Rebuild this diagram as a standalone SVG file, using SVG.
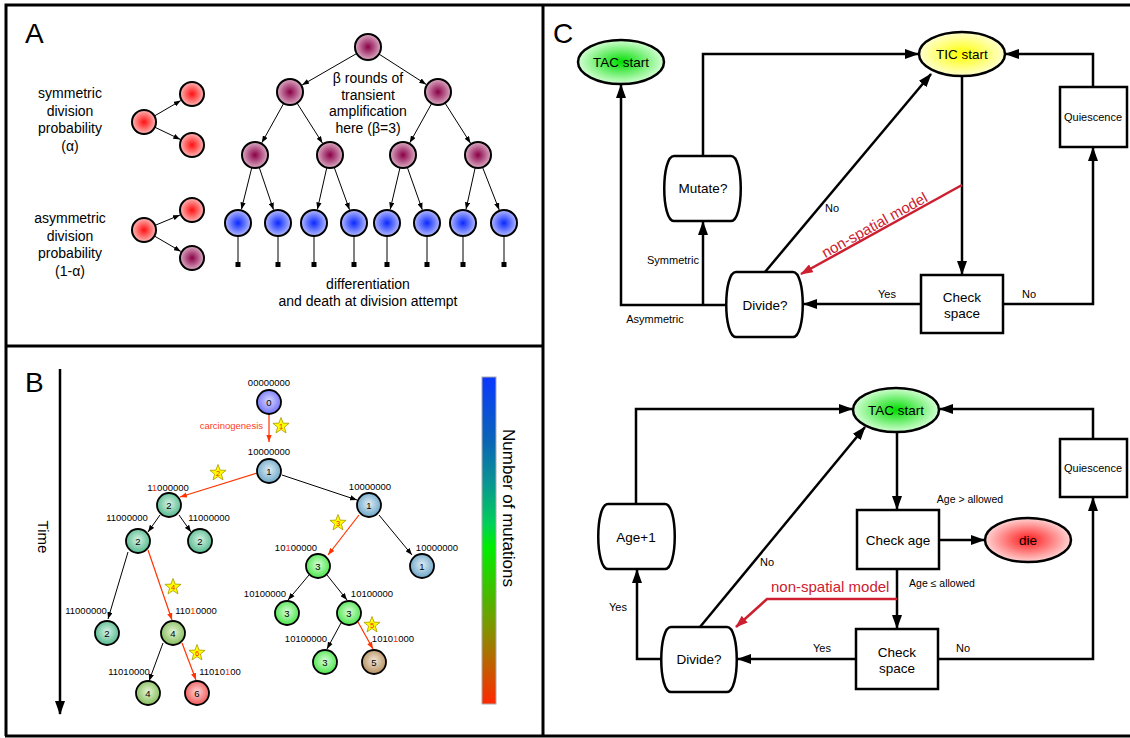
<svg xmlns="http://www.w3.org/2000/svg" width="1130" height="738" viewBox="0 0 1130 738">
<style>
text{font-family:"Liberation Sans",Arial,Helvetica,sans-serif;fill:#000}
.panel{fill:none;stroke:#000;stroke-width:3}
.ca{stroke:#000;stroke-width:2}
.ta{font-size:14px;text-anchor:middle}
.ea{stroke:#000;stroke-width:1;fill:none;marker-end:url(#arrS)}
.bn{stroke:#000;stroke-width:1.8}
.bl{font-size:9.5px;text-anchor:middle}
.bd{font-size:9.5px;text-anchor:middle}
.eb{stroke:#000;stroke-width:1;fill:none;marker-end:url(#arrS)}
.er{stroke:#ff3300;stroke-width:1.2;fill:none;marker-end:url(#arrR)}
.fc{fill:none;stroke:#000;stroke-width:2.5;marker-end:url(#arrB)}
.fcr{fill:none;stroke:#cc2030;stroke-width:2.5;marker-end:url(#arrCR)}
.box{fill:#fff;stroke:#000;stroke-width:2.5}
.nt{font-size:13.5px;text-anchor:middle}
.lb{font-size:11px;text-anchor:middle}
.r{fill:#ff3300}
.sd{font-size:7.5px;text-anchor:middle;fill:#ff2000}
.big{font-size:28px}
</style>
<defs>
<marker id="arrS" viewBox="0 0 8 6" refX="8" refY="3" markerWidth="7" markerHeight="5.5" markerUnits="userSpaceOnUse" orient="auto"><path d="M0,0L8,3L0,6z" fill="#000"/></marker>
<marker id="arrR" viewBox="0 0 8 6" refX="8" refY="3" markerWidth="7" markerHeight="5.5" markerUnits="userSpaceOnUse" orient="auto"><path d="M0,0L8,3L0,6z" fill="#ff3300"/></marker>
<marker id="arrB" viewBox="0 0 14 10" refX="13" refY="5" markerWidth="14" markerHeight="10" markerUnits="userSpaceOnUse" orient="auto"><path d="M0,0L14,5L0,10z" fill="#000"/></marker>
<marker id="arrCR" viewBox="0 0 14 10" refX="13" refY="5" markerWidth="13" markerHeight="9" markerUnits="userSpaceOnUse" orient="auto"><path d="M0,0L14,5L0,10z" fill="#cc2030"/></marker>
<radialGradient id="gRed"><stop offset="0" stop-color="#ff1010"/><stop offset="1" stop-color="#ffb8b8"/></radialGradient>
<radialGradient id="gPur"><stop offset="0" stop-color="#8a0048"/><stop offset="1" stop-color="#dcacc4"/></radialGradient>
<radialGradient id="gBlu"><stop offset="0" stop-color="#0a28ff"/><stop offset="1" stop-color="#b4baff"/></radialGradient>
<radialGradient id="g0" cx="0.5" cy="0.45" r="0.55"><stop offset="0" stop-color="#d8d8ff"/><stop offset="1" stop-color="#7070f8"/></radialGradient>
<radialGradient id="g1" cx="0.5" cy="0.45" r="0.55"><stop offset="0" stop-color="#e0eef6"/><stop offset="1" stop-color="#6aa4c6"/></radialGradient>
<radialGradient id="g2" cx="0.5" cy="0.45" r="0.55"><stop offset="0" stop-color="#d8f4e6"/><stop offset="1" stop-color="#52b88c"/></radialGradient>
<radialGradient id="g3" cx="0.5" cy="0.45" r="0.55"><stop offset="0" stop-color="#d8ffd8"/><stop offset="1" stop-color="#48e448"/></radialGradient>
<radialGradient id="g4" cx="0.5" cy="0.45" r="0.55"><stop offset="0" stop-color="#e4f4d8"/><stop offset="1" stop-color="#84bc58"/></radialGradient>
<radialGradient id="g5" cx="0.5" cy="0.45" r="0.55"><stop offset="0" stop-color="#f4e8d8"/><stop offset="1" stop-color="#b48e60"/></radialGradient>
<radialGradient id="g6" cx="0.5" cy="0.45" r="0.55"><stop offset="0" stop-color="#ffd4d4"/><stop offset="1" stop-color="#f05858"/></radialGradient>
<radialGradient id="gTAC"><stop offset="0" stop-color="#00dd00"/><stop offset="1" stop-color="#d4ffd4"/></radialGradient>
<radialGradient id="gTIC"><stop offset="0" stop-color="#ffff00"/><stop offset="1" stop-color="#ffffd0"/></radialGradient>
<radialGradient id="gDie"><stop offset="0" stop-color="#ff1a1a"/><stop offset="1" stop-color="#ffd4d4"/></radialGradient>
<linearGradient id="gBar" x1="0" y1="0" x2="0" y2="1">
<stop offset="0" stop-color="#0a38ff"/><stop offset="0.2" stop-color="#0a66b4"/><stop offset="0.32" stop-color="#0a9494"/><stop offset="0.45" stop-color="#00d058"/><stop offset="0.52" stop-color="#00ee00"/><stop offset="0.65" stop-color="#40c000"/><stop offset="0.76" stop-color="#7c9800"/><stop offset="0.88" stop-color="#c06000"/><stop offset="1" stop-color="#ff2800"/>
</linearGradient>
<polygon id="star" points="0,-8.5 2.1,-2.89 8.08,-2.63 3.39,1.1 5,6.88 0,3.57 -5,6.88 -3.39,1.1 -8.08,-2.63 -2.1,-2.89" fill="#ffff00" stroke="#a89800" stroke-width="0.8"/>
</defs>
<rect width="1130" height="738" fill="#fff"/>

<g id="panels">
<path class="panel" d="M6,736 V5 H1130"/>
<path class="panel" d="M5,736 H1130"/>
<line class="panel" x1="543" y1="5" x2="543" y2="736"/>
<line class="panel" x1="5" y1="346" x2="543" y2="346"/>
<text class="big" x="25" y="43">A</text>
<text class="big" x="25" y="392">B</text>
<text class="big" x="553" y="43">C</text>
</g>

<!-- Panel A -->
<g id="A-texts">
<text class="ta" x="70" y="98">symmetric</text>
<text class="ta" x="70" y="116">division</text>
<text class="ta" x="70" y="133">probability</text>
<text class="ta" x="70" y="151">(α)</text>
<text class="ta" x="70" y="223">asymmetric</text>
<text class="ta" x="70" y="241">division</text>
<text class="ta" x="70" y="258">probability</text>
<text class="ta" x="70" y="276">(1-α)</text>
<text class="ta" x="368" y="83">β rounds of</text>
<text class="ta" x="368" y="100">transient</text>
<text class="ta" x="368" y="116">amplification</text>
<text class="ta" x="368" y="133">here (β=3)</text>
<text class="ta" x="368" y="289">differentiation</text>
<text class="ta" x="368" y="306">and death at division attempt</text>
</g>
<g id="A-connectors">
<line class="ea" x1="154.4" y1="116" x2="180.8" y2="100.6"/>
<line class="ea" x1="154.8" y1="127.2" x2="180.3" y2="139.4"/>
<line class="ea" x1="155" y1="225.4" x2="180" y2="215"/>
<line class="ea" x1="154.4" y1="236" x2="180.8" y2="251.4"/>
<line class="ea" x1="356.7" y1="53.5" x2="302.1" y2="85"/>
<line class="ea" x1="378.9" y1="54" x2="426.2" y2="84.4"/>
<line class="ea" x1="283.7" y1="103.4" x2="261.8" y2="142.8"/>
<line class="ea" x1="297" y1="103" x2="322.5" y2="143.2"/>
<line class="ea" x1="431.7" y1="103.4" x2="409.8" y2="142.8"/>
<line class="ea" x1="445" y1="103" x2="470.5" y2="143.2"/>
<line class="ea" x1="251.8" y1="167.6" x2="241.4" y2="209.4"/>
<line class="ea" x1="259.2" y1="167.3" x2="273.5" y2="209.7"/>
<line class="ea" x1="326.8" y1="167.6" x2="317.4" y2="209.4"/>
<line class="ea" x1="334.2" y1="167.3" x2="349.5" y2="209.7"/>
<line class="ea" x1="400" y1="167.7" x2="390.2" y2="209.4"/>
<line class="ea" x1="407.3" y1="167.3" x2="422.3" y2="209.8"/>
<line class="ea" x1="475.2" y1="167.7" x2="466" y2="209.3"/>
<line class="ea" x1="482.5" y1="167.2" x2="499.2" y2="209.9"/>
<g stroke="#000" stroke-width="1">
<line x1="238" y1="236" x2="238" y2="263"/><line x1="278" y1="236" x2="278" y2="263"/>
<line x1="314" y1="236" x2="314" y2="263"/><line x1="354" y1="236" x2="354" y2="263"/>
<line x1="387" y1="236" x2="387" y2="263"/><line x1="427" y1="236" x2="427" y2="263"/>
<line x1="463" y1="236" x2="463" y2="263"/><line x1="504" y1="236" x2="504" y2="263"/>
</g>
<g fill="#000">
<rect x="235.5" y="262" width="5" height="5"/><rect x="275.5" y="262" width="5" height="5"/>
<rect x="311.5" y="262" width="5" height="5"/><rect x="351.5" y="262" width="5" height="5"/>
<rect x="384.5" y="262" width="5" height="5"/><rect x="424.5" y="262" width="5" height="5"/>
<rect x="460.5" y="262" width="5" height="5"/><rect x="501.5" y="262" width="5" height="5"/>
</g>
</g>
<g id="A-sym-mother"><circle class="ca" cx="144" cy="122" r="12" fill="url(#gRed)"/></g>
<g id="A-sym-d1"><circle class="ca" cx="192" cy="94" r="12" fill="url(#gRed)"/></g>
<g id="A-sym-d2"><circle class="ca" cx="192" cy="145" r="12" fill="url(#gRed)"/></g>
<g id="A-asym-mother"><circle class="ca" cx="144" cy="230" r="12" fill="url(#gRed)"/></g>
<g id="A-asym-d1"><circle class="ca" cx="192" cy="210" r="12" fill="url(#gRed)"/></g>
<g id="A-asym-d2"><circle class="ca" cx="192" cy="258" r="12" fill="url(#gPur)"/></g>
<g id="A-tree-root"><circle class="ca" cx="368" cy="47" r="13" fill="url(#gPur)"/></g>
<g id="A-tree-l2"><circle class="ca" cx="290" cy="92" r="13" fill="url(#gPur)"/><circle class="ca" cx="438" cy="92" r="13" fill="url(#gPur)"/></g>
<g id="A-tree-l3"><circle class="ca" cx="255" cy="155" r="13" fill="url(#gPur)"/><circle class="ca" cx="330" cy="155" r="13" fill="url(#gPur)"/><circle class="ca" cx="403" cy="155" r="13" fill="url(#gPur)"/><circle class="ca" cx="478" cy="155" r="13" fill="url(#gPur)"/></g>
<g id="A-tree-l4">
<circle class="ca" cx="238" cy="223" r="13" fill="url(#gBlu)"/><circle class="ca" cx="278" cy="223" r="13" fill="url(#gBlu)"/>
<circle class="ca" cx="314" cy="223" r="13" fill="url(#gBlu)"/><circle class="ca" cx="354" cy="223" r="13" fill="url(#gBlu)"/>
<circle class="ca" cx="387" cy="223" r="13" fill="url(#gBlu)"/><circle class="ca" cx="427" cy="223" r="13" fill="url(#gBlu)"/>
<circle class="ca" cx="463" cy="223" r="13" fill="url(#gBlu)"/><circle class="ca" cx="504" cy="223" r="13" fill="url(#gBlu)"/>
</g>

<!-- Panel B -->
<g id="B-time">
<line x1="60" y1="369" x2="60" y2="714" stroke="#000" stroke-width="2.5" marker-end="url(#arrB)"/>
<text x="43" y="537" font-size="15" text-anchor="middle" dominant-baseline="central" transform="rotate(90 43 537)">Time</text>
</g>
<g id="B-colorbar">
<rect x="482" y="377" width="14" height="327" fill="url(#gBar)" stroke="#aaa" stroke-width="1"/>
<text x="508" y="508" font-size="17" text-anchor="middle" dominant-baseline="central" transform="rotate(90 508 508)">Number of mutations</text>
</g>
<g id="B-connectors">
<line class="er" x1="269" y1="414" x2="269" y2="442"/>
<line class="er" x1="257" y1="473" x2="180" y2="497"/>
<line class="eb" x1="282" y1="475" x2="357" y2="500"/>
<line class="eb" x1="160" y1="515" x2="148" y2="532"/>
<line class="eb" x1="179" y1="515" x2="191" y2="532"/>
<line class="eb" x1="128" y1="552" x2="108" y2="619"/>
<line class="er" x1="148" y1="550" x2="172" y2="620"/>
<line class="eb" x1="163" y1="643" x2="149" y2="681"/>
<line class="er" x1="182" y1="643" x2="196" y2="680"/>
<line class="er" x1="359" y1="515" x2="328" y2="555"/>
<line class="eb" x1="379" y1="515" x2="412" y2="555"/>
<line class="eb" x1="309" y1="575" x2="288" y2="600"/>
<line class="eb" x1="327" y1="575" x2="347" y2="600"/>
<line class="eb" x1="341" y1="623" x2="327" y2="649"/>
<line class="er" x1="358" y1="622" x2="373" y2="649"/>
</g>
<g id="B-labels">
<text x="263" y="429" font-size="9.5" text-anchor="end" fill="#ff3b1f" style="fill:#ff3b1f">carcinogenesis</text>
<text class="bl" x="269" y="385.5">00000000</text>
<text class="bl" x="269" y="454.5">10000000</text>
<text class="bl" x="370" y="489.5">10000000</text>
<text class="bl" x="168" y="490.5">1<tspan class="r">1</tspan>000000</text>
<text class="bl" x="127" y="520.5">11000000</text>
<text class="bl" x="209" y="520.5">11000000</text>
<text class="bl" x="86" y="613.5">11000000</text>
<text class="bl" x="196" y="613.5">110<tspan class="r">1</tspan>0000</text>
<text class="bl" x="129" y="674.5">11010000</text>
<text class="bl" x="220" y="674.5">11010<tspan class="r">1</tspan>00</text>
<text class="bl" x="296" y="550.5">10<tspan class="r">1</tspan>00000</text>
<text class="bl" x="437" y="550.5">10000000</text>
<text class="bl" x="265" y="596.5">10100000</text>
<text class="bl" x="372" y="596.5">10100000</text>
<text class="bl" x="306" y="641.5">10100000</text>
<text class="bl" x="393" y="641.5">1010<tspan class="r">1</tspan>000</text>
</g>
<g id="B-stars">
<use href="#star" x="281" y="426"/><text class="sd" x="281" y="429">1</text>
<use href="#star" x="218" y="473"/><text class="sd" x="218" y="476">2</text>
<use href="#star" x="338" y="523"/><text class="sd" x="338" y="526">3</text>
<use href="#star" x="173" y="587"/><text class="sd" x="173" y="590">4</text>
<use href="#star" x="372" y="625"/><text class="sd" x="372" y="628">5</text>
<use href="#star" x="197" y="653"/><text class="sd" x="197" y="656">6</text>
</g>
<g id="B-n0"><circle class="bn" cx="269" cy="402" r="12" fill="url(#g0)"/><text class="bd" x="269" y="405.5">0</text></g>
<g id="B-n1a"><circle class="bn" cx="269" cy="471" r="12" fill="url(#g1)"/><text class="bd" x="269" y="474.5">1</text></g>
<g id="B-n2a"><circle class="bn" cx="169" cy="505" r="12" fill="url(#g2)"/><text class="bd" x="169" y="508.5">2</text></g>
<g id="B-n2b"><circle class="bn" cx="138" cy="541" r="12" fill="url(#g2)"/><text class="bd" x="138" y="544.5">2</text></g>
<g id="B-n2c"><circle class="bn" cx="200" cy="541" r="12" fill="url(#g2)"/><text class="bd" x="200" y="544.5">2</text></g>
<g id="B-n2d"><circle class="bn" cx="107" cy="633" r="12" fill="url(#g2)"/><text class="bd" x="107" y="636.5">2</text></g>
<g id="B-n4a"><circle class="bn" cx="173" cy="633" r="12" fill="url(#g4)"/><text class="bd" x="173" y="636.5">4</text></g>
<g id="B-n4b"><circle class="bn" cx="148" cy="693" r="12" fill="url(#g4)"/><text class="bd" x="148" y="696.5">4</text></g>
<g id="B-n6"><circle class="bn" cx="197" cy="693" r="12" fill="url(#g6)"/><text class="bd" x="197" y="696.5">6</text></g>
<g id="B-n1b"><circle class="bn" cx="369" cy="505" r="12" fill="url(#g1)"/><text class="bd" x="369" y="508.5">1</text></g>
<g id="B-n1c"><circle class="bn" cx="422" cy="566" r="12" fill="url(#g1)"/><text class="bd" x="422" y="569.5">1</text></g>
<g id="B-n3a"><circle class="bn" cx="318" cy="566" r="12" fill="url(#g3)"/><text class="bd" x="318" y="569.5">3</text></g>
<g id="B-n3b"><circle class="bn" cx="287" cy="613" r="12" fill="url(#g3)"/><text class="bd" x="287" y="616.5">3</text></g>
<g id="B-n3c"><circle class="bn" cx="349" cy="613" r="12" fill="url(#g3)"/><text class="bd" x="349" y="616.5">3</text></g>
<g id="B-n3d"><circle class="bn" cx="325" cy="662" r="12" fill="url(#g3)"/><text class="bd" x="325" y="665.5">3</text></g>
<g id="B-n5"><circle class="bn" cx="374" cy="662" r="12" fill="url(#g5)"/><text class="bd" x="374" y="665.5">5</text></g>

<!-- Panel C -->
<g id="C-connectors">
<path class="fc" d="M726,305 H621 V85"/>
<path class="fc" d="M703,305 V222"/>
<path class="fc" d="M703,156 V54 H918"/>
<path class="fc" d="M765,272 L931,74"/>
<path class="fc" d="M962,76 V274"/>
<path class="fc" d="M921,304 H804"/>
<path class="fc" d="M1003,304 H1093 V148"/>
<path class="fc" d="M1093,87 V54 H1006"/>
<path class="fcr" d="M962,185 L801,274"/>
<path class="fc" d="M636,504 V409 H852"/>
<path class="fc" d="M661,659 H637 V570"/>
<path class="fc" d="M700,627 L865,427"/>
<path class="fc" d="M897,432 V509"/>
<path class="fc" d="M939,540 H984"/>
<path class="fc" d="M897,569 V628"/>
<path class="fc" d="M856,659 H738"/>
<path class="fc" d="M938,659 H1093 V498"/>
<path class="fc" d="M1093,439 V409 H940"/>
<path class="fcr" d="M897,599 H767 L736,627"/>
</g>
<g id="C-labels">
<text class="lb" x="673" y="264">Symmetric</text>
<text class="lb" x="655" y="323">Asymmetric</text>
<text class="lb" x="832" y="212">No</text>
<text class="lb" x="887" y="298">Yes</text>
<text class="lb" x="1029" y="298">No</text>
<text x="877" y="229.5" font-size="15" text-anchor="middle" style="fill:#cc2030" transform="rotate(-29 877 229.5)">non-spatial model</text>
<text class="lb" x="618" y="611">Yes</text>
<text class="lb" x="767" y="566">No</text>
<text class="lb" x="822" y="652">Yes</text>
<text class="lb" x="963" y="652">No</text>
<text x="970" y="503" font-size="10.5" text-anchor="middle">Age &gt; allowed</text>
<text x="942" y="587" font-size="10.5" text-anchor="middle">Age ≤ allowed</text>
<text x="771" y="592" font-size="15" style="fill:#cc2030">non-spatial model</text>
</g>
<g id="C-TAC-top"><ellipse cx="621" cy="62" rx="43" ry="22" fill="url(#gTAC)" stroke="#000" stroke-width="2.5"/><text class="nt" x="621" y="67">TAC start</text></g>
<g id="C-TIC"><ellipse cx="962" cy="54" rx="43" ry="22" fill="url(#gTIC)" stroke="#000" stroke-width="2.5"/><text class="nt" x="962" y="59">TIC start</text></g>
<g id="C-mutate"><path class="box" d="M674,156 H731 C744,156 744,221 731,221 H674 C661,221 661,156 674,156 Z"/><text class="nt" x="703" y="193">Mutate?</text></g>
<g id="C-divide-top"><path class="box" d="M736,272 H793 C806,272 806,337 793,337 H736 C723,337 723,272 736,272 Z"/><text class="nt" x="765" y="310">Divide?</text></g>
<g id="C-checkspace-top"><rect class="box" x="921" y="275" width="82" height="58"/><text class="nt" x="962" y="302">Check</text><text class="nt" x="962" y="318">space</text></g>
<g id="C-quiescence-top"><rect class="box" x="1060" y="87" width="67" height="60"/><text class="lb" x="1093" y="121">Quiescence</text></g>
<g id="C-TAC-bottom"><ellipse cx="896" cy="410" rx="43" ry="22" fill="url(#gTAC)" stroke="#000" stroke-width="2.5"/><text class="nt" x="896" y="415">TAC start</text></g>
<g id="C-age"><path class="box" d="M608,504 H665 C678,504 678,569 665,569 H608 C595,569 595,504 608,504 Z"/><text class="nt" x="636" y="542">Age+1</text></g>
<g id="C-divide-bottom"><path class="box" d="M671,627 H727 C740,627 740,692 727,692 H671 C658,692 658,627 671,627 Z"/><text class="nt" x="699" y="664">Divide?</text></g>
<g id="C-checkage"><rect class="box" x="857" y="510" width="82" height="59"/><text class="nt" x="898" y="545">Check age</text></g>
<g id="C-die"><ellipse cx="1028" cy="540" rx="43" ry="22" fill="url(#gDie)" stroke="#000" stroke-width="2.5"/><text class="nt" x="1028" y="545">die</text></g>
<g id="C-checkspace-bottom"><rect class="box" x="856" y="629" width="82" height="60"/><text class="nt" x="897" y="657">Check</text><text class="nt" x="897" y="673">space</text></g>
<g id="C-quiescence-bottom"><rect class="box" x="1060" y="439" width="67" height="58"/><text class="lb" x="1093" y="472">Quiescence</text></g>
</svg>
